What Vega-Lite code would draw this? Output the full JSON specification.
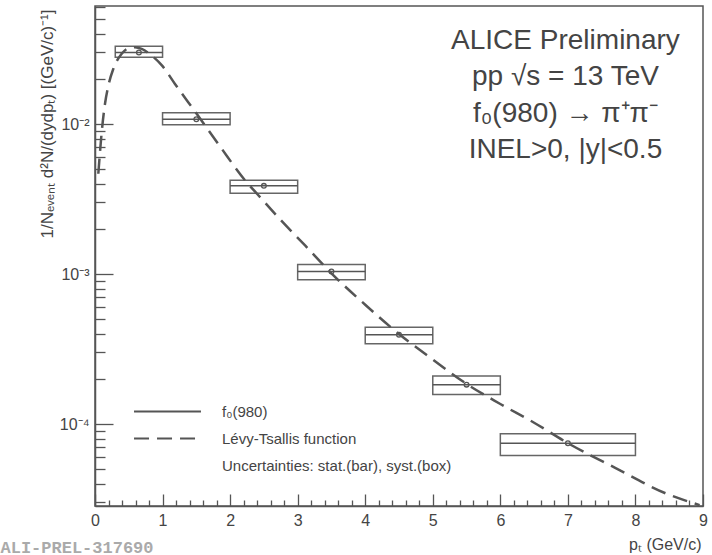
{
  "$schema": "https://vega.github.io/schema/vega-lite/v6.json",
  "width": 608,
  "height": 500,
  "autosize": {"type": "none"},
  "padding": {"left": 95, "top": 6, "right": 9, "bottom": 49},
  "background": "white",
  "title": {
    "text": ["ALICE Preliminary", "pp  √s = 13 TeV", "f₀(980) → π⁺π⁻", "INEL>0, |y|<0.5"],
    "anchor": "end",
    "align": "center",
    "dx": -142,
    "offset": -165,
    "baseline": "top",
    "font": "Liberation Sans",
    "fontSize": 28,
    "fontWeight": "normal",
    "color": "#444",
    "lineHeight": 36.5
  },
  "datasets": {
    "points": [
      {"ptlo": 0.3, "pthi": 1.0, "pt": 0.65, "y": 0.0300, "syslo": 0.0279, "syshi": 0.0330, "series": "f₀(980)"},
      {"ptlo": 1.0, "pthi": 2.0, "pt": 1.5, "y": 0.01076, "syslo": 0.00988, "syshi": 0.01188, "series": "f₀(980)"},
      {"ptlo": 2.0, "pthi": 3.0, "pt": 2.5, "y": 0.00387, "syslo": 0.00346, "syshi": 0.00422, "series": "f₀(980)"},
      {"ptlo": 3.0, "pthi": 4.0, "pt": 3.5, "y": 0.00104, "syslo": 0.000914, "syshi": 0.001156, "series": "f₀(980)"},
      {"ptlo": 4.0, "pthi": 5.0, "pt": 4.5, "y": 0.000394, "syslo": 0.000343, "syshi": 0.000442, "series": "f₀(980)"},
      {"ptlo": 5.0, "pthi": 6.0, "pt": 5.5, "y": 0.000183, "syslo": 0.000157, "syshi": 0.000209, "series": "f₀(980)"},
      {"ptlo": 6.0, "pthi": 8.0, "pt": 7.0, "y": 0.0000745, "syslo": 0.0000617, "syshi": 0.000086, "series": "f₀(980)"}
    ],
    "curve": [
      {"pt": 0.049, "y": 0.00466, "series": "Lévy-Tsallis function"},
      {"pt": 0.1, "y": 0.0089, "series": "Lévy-Tsallis function"},
      {"pt": 0.148, "y": 0.01365, "series": "Lévy-Tsallis function"},
      {"pt": 0.2, "y": 0.0182, "series": "Lévy-Tsallis function"},
      {"pt": 0.271, "y": 0.0233, "series": "Lévy-Tsallis function"},
      {"pt": 0.395, "y": 0.0294, "series": "Lévy-Tsallis function"},
      {"pt": 0.493, "y": 0.0320, "series": "Lévy-Tsallis function"},
      {"pt": 0.592, "y": 0.0325, "series": "Lévy-Tsallis function"},
      {"pt": 0.691, "y": 0.0317, "series": "Lévy-Tsallis function"},
      {"pt": 0.839, "y": 0.0286, "series": "Lévy-Tsallis function"},
      {"pt": 1.0, "y": 0.0243, "series": "Lévy-Tsallis function"},
      {"pt": 1.184, "y": 0.0185, "series": "Lévy-Tsallis function"},
      {"pt": 1.505, "y": 0.0117, "series": "Lévy-Tsallis function"},
      {"pt": 1.85, "y": 0.0071, "series": "Lévy-Tsallis function"},
      {"pt": 2.22, "y": 0.00422, "series": "Lévy-Tsallis function"},
      {"pt": 2.39, "y": 0.00346, "series": "Lévy-Tsallis function"},
      {"pt": 2.75, "y": 0.00229, "series": "Lévy-Tsallis function"},
      {"pt": 3.11, "y": 0.00155, "series": "Lévy-Tsallis function"},
      {"pt": 3.5, "y": 0.00101, "series": "Lévy-Tsallis function"},
      {"pt": 4.0, "y": 0.000624, "series": "Lévy-Tsallis function"},
      {"pt": 4.5, "y": 0.000398, "series": "Lévy-Tsallis function"},
      {"pt": 5.0, "y": 0.000269, "series": "Lévy-Tsallis function"},
      {"pt": 5.5, "y": 0.000185, "series": "Lévy-Tsallis function"},
      {"pt": 6.0, "y": 0.000136, "series": "Lévy-Tsallis function"},
      {"pt": 6.5, "y": 0.000102, "series": "Lévy-Tsallis function"},
      {"pt": 7.0, "y": 0.0000745, "series": "Lévy-Tsallis function"},
      {"pt": 7.7, "y": 0.000051, "series": "Lévy-Tsallis function"},
      {"pt": 8.46, "y": 0.0000343, "series": "Lévy-Tsallis function"},
      {"pt": 8.95, "y": 0.0000288, "series": "Lévy-Tsallis function"}
    ]
  },
  "layer": [
    {
      "data": {"name": "points"},
      "mark": {"type": "rect", "fill": "white", "fillOpacity": 0, "stroke": "#666", "strokeWidth": 1.5},
      "encoding": {
        "x": {
          "field": "ptlo", "type": "quantitative",
          "scale": {"domain": [0, 9], "nice": false, "zero": false},
          "axis": {
            "title": "pₜ (GeV/c)",
            "values": [0,0.2,0.4,0.6,0.8,1,1.2,1.4,1.6,1.8,2,2.2,2.4,2.6,2.8,3,3.2,3.4,3.6,3.8,4,4.2,4.4,4.6,4.8,5,5.2,5.4,5.6,5.8,6,6.2,6.4,6.6,6.8,7,7.2,7.4,7.6,7.8,8,8.2,8.4,8.6,8.8,9],
            "labelExpr": "datum.value % 1 == 0 ? format(datum.value, 'd') : ''",
            "tickSize": {"condition": {"test": "datum.value % 1 == 0", "value": -12}, "value": -6},
            "labelPadding": 18,
            "labelOverlap": false,
            "labelFlush": false,
            "grid": false,
            "domainColor": "#555", "domainWidth": 1.5,
            "tickColor": "#555", "tickWidth": 1.3,
            "labelFont": "Liberation Sans", "labelFontSize": 16, "labelColor": "#444",
            "titleFont": "Liberation Sans", "titleFontSize": 16, "titleFontWeight": "normal", "titleColor": "#444",
            "titleX": 606, "titleY": 43, "titleAlign": "right", "titleBaseline": "alphabetic"
          }
        },
        "x2": {"field": "pthi"},
        "y": {
          "field": "syslo", "type": "quantitative",
          "scale": {"type": "log", "domain": [0.0000284, 0.0612], "nice": false},
          "axis": {
            "title": "1/Nₑᵥₑₙₜ d²N/(dydpₜ) [(GeV/c)⁻¹]",
            "values": [0.00003,0.00004,0.00005,0.00006,0.00007,0.00008,0.00009,0.0001,0.0002,0.0003,0.0004,0.0005,0.0006,0.0007,0.0008,0.0009,0.001,0.002,0.003,0.004,0.005,0.006,0.007,0.008,0.009,0.01,0.02,0.03,0.04,0.05,0.06],
            "labelExpr": "datum.value == 0.0001 ? '10⁻⁴' : datum.value == 0.001 ? '10⁻³' : datum.value == 0.01 ? '10⁻²' : ''",
            "tickSize": {"condition": {"test": "datum.value == 0.0001 || datum.value == 0.001 || datum.value == 0.01", "value": -18}, "value": -10},
            "labelPadding": 24,
            "labelOverlap": false,
            "labelFlush": false,
            "grid": false,
            "domainColor": "#555", "domainWidth": 1.5,
            "tickColor": "#555", "tickWidth": 1.3,
            "labelFont": "Liberation Sans", "labelFontSize": 16, "labelColor": "#444",
            "titleFont": "Liberation Sans", "titleFontSize": 17, "titleFontWeight": "normal", "titleColor": "#444",
            "titleAngle": 270, "titleX": -48, "titleY": 3, "titleAlign": "right", "titleBaseline": "middle"
          }
        },
        "y2": {"field": "syshi"}
      }
    },
    {
      "data": {"name": "points"},
      "mark": {"type": "rule", "stroke": "#555", "strokeWidth": 1.5},
      "encoding": {
        "x": {"field": "ptlo", "type": "quantitative", "axis": null},
        "x2": {"field": "pthi"},
        "y": {"field": "y", "type": "quantitative"},
        "strokeDash": {
          "field": "series", "type": "nominal",
          "scale": {"domain": ["f₀(980)", "Lévy-Tsallis function", "Uncertainties: stat.(bar), syst.(box)"], "range": [[1, 0], [15, 8], [0, 1000]]},
          "legend": {
            "title": null, "orient": "none", "legendX": 60, "legendY": 393,
            "symbolType": "M-3,0H3", "symbolSize": 498, "symbolStrokeColor": "#555", "symbolStrokeWidth": 2,
            "symbolFillColor": "transparent",
            "labelFont": "Liberation Sans", "labelFontSize": 15, "labelColor": "#444",
            "labelOffset": 42, "labelLimit": 400, "rowPadding": 6, "padding": 0
          }
        }
      }
    },
    {
      "data": {"name": "points"},
      "mark": {"type": "point", "shape": "circle", "filled": false, "size": 22, "stroke": "#555", "strokeWidth": 1.3, "opacity": 1},
      "encoding": {
        "x": {"field": "pt", "type": "quantitative", "axis": null},
        "y": {"field": "y", "type": "quantitative"}
      }
    },
    {
      "data": {"name": "curve"},
      "mark": {"type": "line", "stroke": "#555", "strokeWidth": 2.5, "interpolate": "monotone", "clip": true},
      "encoding": {
        "x": {
          "field": "pt", "type": "quantitative",
          "axis": {
            "orient": "bottom", "domain": false, "ticks": false, "labels": false, "grid": false,
            "title": "ALI-PREL-317690", "titleX": -95, "titleY": 46, "titleAlign": "left", "titleBaseline": "alphabetic",
            "titleFont": "Liberation Mono", "titleFontWeight": "bold", "titleFontSize": 17, "titleColor": "#aaa"
          }
        },
        "y": {"field": "y", "type": "quantitative"},
        "strokeDash": {"field": "series", "type": "nominal"}
      }
    }
  ],
  "resolve": {"axis": {"x": "independent"}},
  "config": {
    "view": {"stroke": "#555", "strokeWidth": 1.5},
    "font": "Liberation Sans"
  }
}
